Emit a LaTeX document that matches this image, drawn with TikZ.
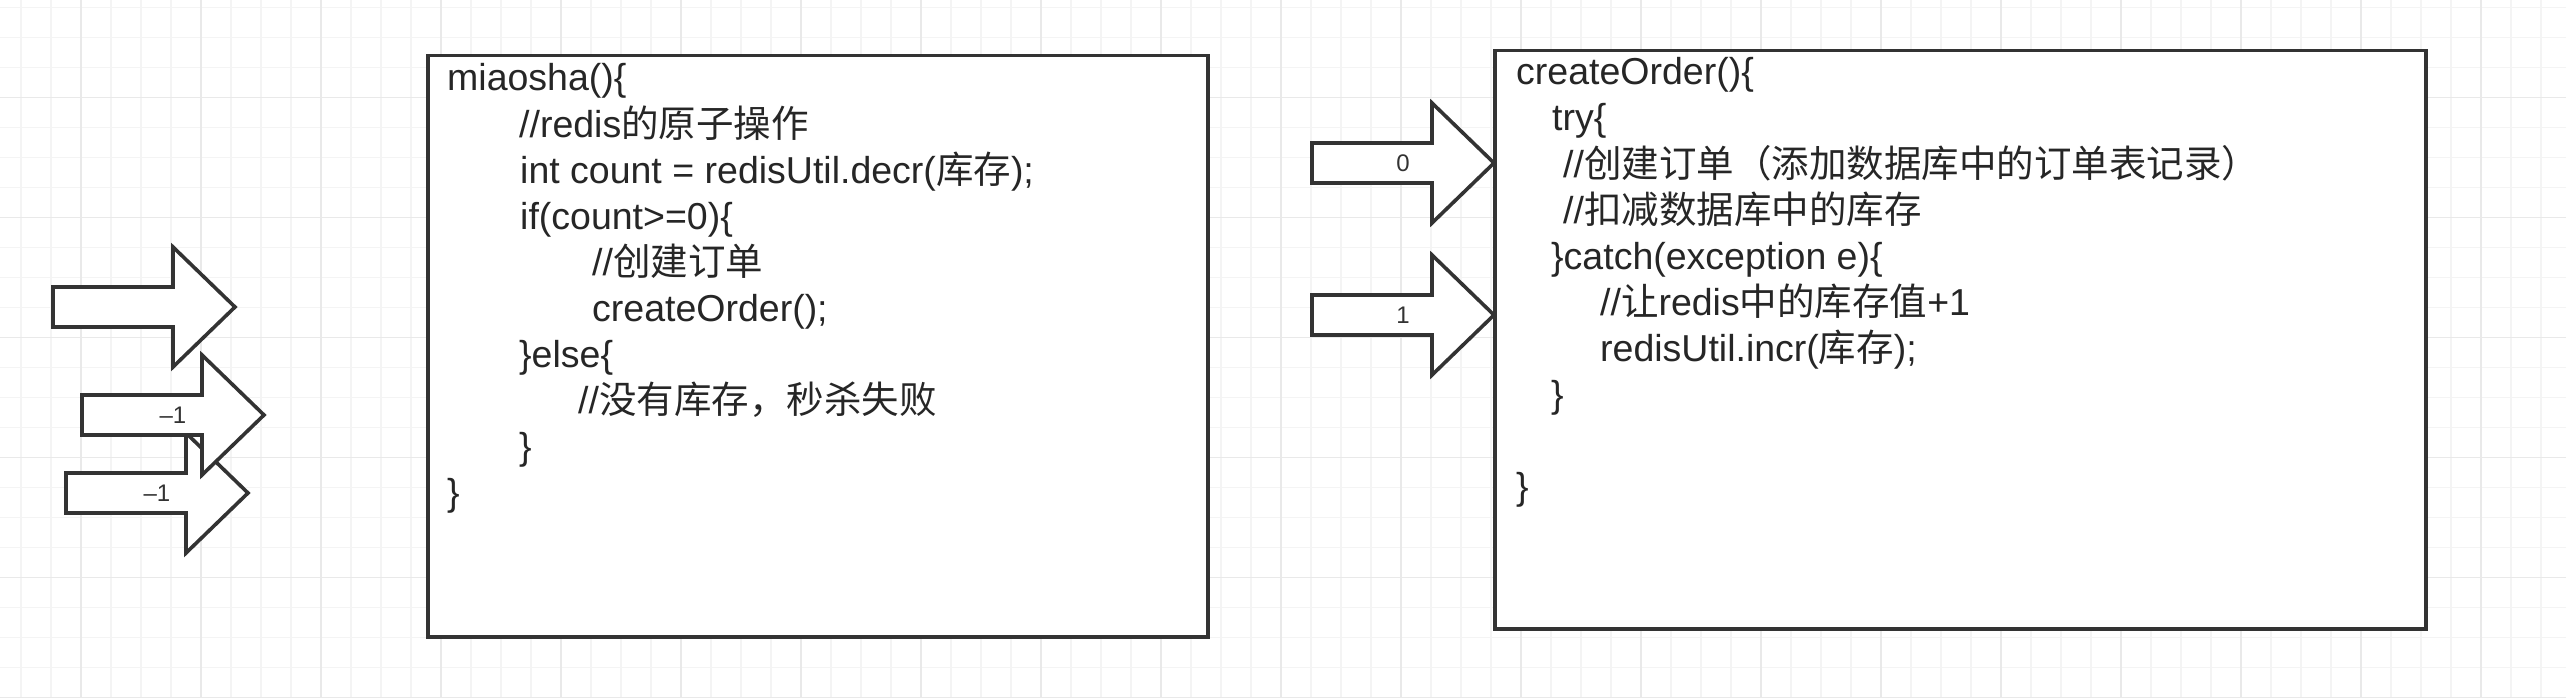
\documentclass[tikz,border=0pt]{standalone}
\usepackage{fontspec}
\setmainfont{Liberation Sans}
\newfontfamily\cjk{Noto Sans CJK SC}
\newcommand{\zh}[1]{{\cjk #1}}
\definecolor{gridminor}{HTML}{F4F4F4}
\definecolor{gridmajor}{HTML}{E9E9E9}
\definecolor{ink}{HTML}{333333}
\definecolor{txt}{HTML}{262626}
\tikzset{
  minorline/.style={draw=gridminor, line width=1.6pt},
  majorline/.style={draw=gridmajor, line width=1.8pt},
  codebox/.style={draw=ink, fill=white, line width=3.5pt, rectangle, inner sep=0pt, anchor=north west},
  arrowshape/.style={draw=ink, fill=white, line width=3.6pt, line join=miter},
  arrowlabel/.style={inner sep=0pt, text=ink, font=\fontsize{24}{28}\selectfont},
  codeline/.style={inner sep=0pt, anchor=base west, text=txt, font=\fontsize{37.5}{45}\selectfont}
}
\newcommand{\fatarrow}[4]{%
  \draw[arrowshape] (#2,#3-20) -- (#2+120,#3-20) -- (#2+120,#3-60) -- (#2+182,#3)
    -- (#2+120,#3+60) -- (#2+120,#3+20) -- (#2,#3+20) -- cycle;
  \node[arrowlabel] (#1) at (#2+91,#3) {#4};
}
\begin{document}
\begin{tikzpicture}[x=1pt,y=-1pt]
\useasboundingbox (0,0) rectangle (2566,698);
\fill[white] (0,0) rectangle (2566,698);
% grid
\foreach \i in {0,...,85} \draw[minorline] ({21+30*\i},0) -- ({21+30*\i},698);
\foreach \j in {0,...,23} \draw[minorline] (0,{7.5+30*\j}) -- (2566,{7.5+30*\j});
\foreach \i in {0,...,20} \draw[majorline] ({81+120*\i},0) -- ({81+120*\i},698);
\foreach \j in {0,...,5} \draw[majorline] (0,{97.5+120*\j}) -- (2566,{97.5+120*\j});

% boxes
\node[codebox, minimum width=780pt, minimum height=581pt] (leftbox) at (426,54) {};
\node[codebox, minimum width=931pt, minimum height=578pt] (rightbox) at (1493,49) {};

% left arrows
\fatarrow{a3}{66}{493}{–1}
\fatarrow{a2}{82}{415}{–1}
\fatarrow{a1}{53}{307}{}
% right arrows
\fatarrow{b0}{1312}{163}{0}
\fatarrow{b1}{1312}{315}{1}

% left code
\node[codeline] (l1) at (447,91) {miaosha()\{};
\node[codeline] (l2) at (519,137) {//redis\zh{的原子操作}};
\node[codeline] (l3) at (520,183) {int count = redisUtil.decr(\zh{库存});};
\node[codeline] (l4) at (520,229) {if(count>=0)\{};
\node[codeline] (l5) at (592,275) {//\zh{创建订单}};
\node[codeline] (l6) at (592,321) {createOrder();};
\node[codeline] (l7) at (519,367) {\}else\{};
\node[codeline] (l8) at (578,413) {//\zh{没有库存，秒杀失败}};
\node[codeline] (l9) at (519,459) {\}};
\node[codeline] (l10) at (447,505) {\}};

% right code
\node[codeline] (r1) at (1516,85) {createOrder()\{};
\node[codeline] (r2) at (1552,131) {try\{};
\node[codeline] (r3) at (1563,177) {//\zh{创建订单（添加数据库中的订单表记录）}};
\node[codeline] (r4) at (1563,223) {//\zh{扣减数据库中的库存}};
\node[codeline] (r5) at (1551,269) {\}catch(exception e)\{};
\node[codeline] (r6) at (1600,315) {//\zh{让}redis\zh{中的库存值}+1};
\node[codeline] (r7) at (1600,361) {redisUtil.incr(\zh{库存});};
\node[codeline] (r8) at (1551,407) {\}};
\node[codeline] (r9) at (1516,499) {\}};
\end{tikzpicture}
\end{document}
